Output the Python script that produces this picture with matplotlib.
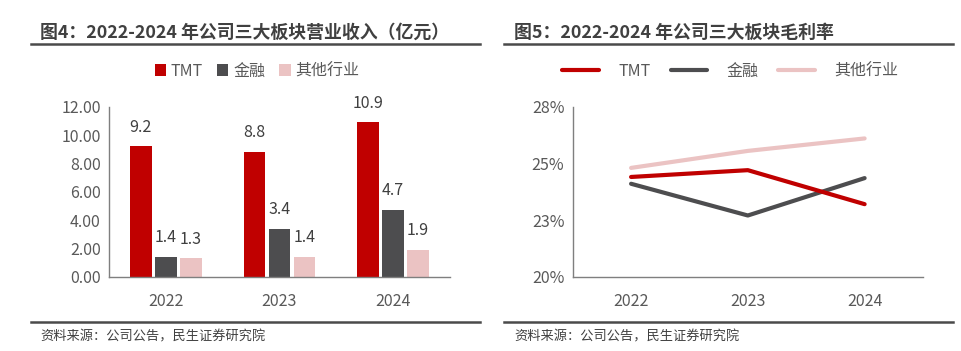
import matplotlib.pyplot as plt
from matplotlib.lines import Line2D
from matplotlib.ticker import FuncFormatter

plt.rcParams['font.family'] = ['Noto Sans CJK SC', 'DejaVu Sans']

# data
years = ['2022', '2023', '2024']
rev_tmt = [9.2, 8.8, 10.9]
rev_fin = [1.4, 3.4, 4.7]
rev_other = [1.3, 1.4, 1.9]
gm_tmt = [24.4, 24.7, 23.2]
gm_fin = [24.1, 22.7, 24.35]
gm_other = [24.8, 25.55, 26.1]
series_names = ['TMT', '金融', '其他行业']

RED = '#C00000'
GRAY = '#4D4D4F'
PINK = '#EBC3C3'
TXT = '#404040'
TICK = '#595959'

W, H = 961, 351
fig = plt.figure(figsize=(W / 100, H / 100), dpi=100)
fig.patch.set_facecolor('white')


def px(x, y):
    return x / W, 1 - y / H


def frame(x0, x1, tx, title):
    # title, rules and source line for one panel
    fig.text(*px(tx, 33), title, fontsize=12.9, fontweight='bold', color=TXT,
             ha='left', va='center')
    fig.add_artist(Line2D([x0 / W, x1 / W], [1 - 43.5 / H] * 2, color='#4a4a4a', lw=1.8))
    fig.add_artist(Line2D([x0 / W, x1 / W], [1 - 322 / H] * 2, color='#4a4a4a', lw=1.8))
    fig.text(*px(tx, 337), '资料来源：公司公告，民生证券研究院', fontsize=9.5, color=TXT,
             ha='left', va='center')


def style_axes(ax):
    for s in ['top', 'right']:
        ax.spines[s].set_visible(False)
    for s in ['left', 'bottom']:
        ax.spines[s].set_color('#7F7F7F')
        ax.spines[s].set_linewidth(1.0)
    ax.tick_params(length=0, labelsize=11.5, colors=TICK, pad=6)
    ax.set_xlim(-0.5, 2.5)
    ax.set_xticks(range(len(years)))
    ax.set_xticklabels(years)
    ax.tick_params(axis='x', pad=12)


leg_y = (276.7 - 71) / 170

# ---------- left: revenue bars ----------
frame(31, 480, 40, '图4：2022-2024 年公司三大板块营业收入（亿元）')
ax1 = fig.add_axes([109 / W, 74.3 / H, 341 / W, 170 / H])
style_axes(ax1)
ax1.set_ylim(0, 12)
ax1.set_yticks([0, 2, 4, 6, 8, 10, 12])
ax1.yaxis.set_major_formatter(FuncFormatter(lambda v, p: f'{v:.2f}'))
bw = 0.19
step = 0.22
xs = list(range(len(years)))
for k, (vals, col) in enumerate(zip([rev_tmt, rev_fin, rev_other], [RED, GRAY, PINK])):
    pos = [x + (k - 1) * step for x in xs]
    ax1.bar(pos, vals, width=bw, color=col, label=series_names[k])
    for p, v in zip(pos, vals):
        ax1.text(p, v + 0.75, f'{v:.1f}', ha='center', va='bottom', fontsize=11.5, color=TXT)
ax1.legend(loc='center', bbox_to_anchor=(0.434, leg_y), ncol=3,
           frameon=False, fontsize=11.5, handlelength=0.7, handleheight=0.7,
           handletextpad=0.3, columnspacing=0.9, labelcolor=TICK)

# ---------- right: gross margin lines ----------
frame(504, 953, 514, '图5：2022-2024 年公司三大板块毛利率')
ax2 = fig.add_axes([572.7 / W, 74.3 / H, 350.3 / W, 170 / H])
style_axes(ax2)
ax2.set_ylim(20, 27.5)
ax2.set_yticks([20, 22.5, 25, 27.5])
ax2.set_yticklabels(['20%', '23%', '25%', '28%'])
ax2.plot(xs, gm_other, color=PINK, lw=3, label=series_names[2], solid_capstyle='round')
ax2.plot(xs, gm_fin, color=GRAY, lw=3, label=series_names[1], solid_capstyle='round')
ax2.plot(xs, gm_tmt, color=RED, lw=3, label=series_names[0], solid_capstyle='round')
h, l = ax2.get_legend_handles_labels()
order = [2, 1, 0]
ax2.legend([h[i] for i in order], [l[i] for i in order], loc='center',
           bbox_to_anchor=(0.45, leg_y), ncol=3, frameon=False,
           fontsize=11.5, handlelength=2.3, handletextpad=1.2, columnspacing=1.25,
           labelcolor=TICK)

fig.savefig('out.png', dpi=100, facecolor='white')
